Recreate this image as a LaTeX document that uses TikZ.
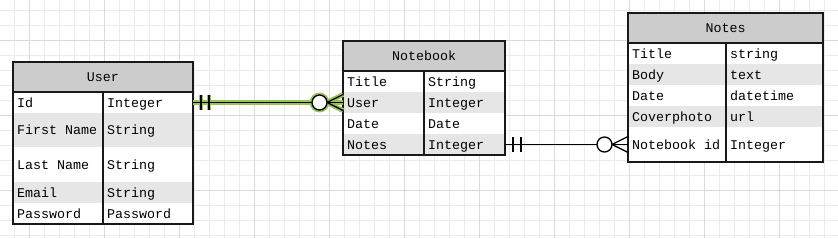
\documentclass[tikz,border=0pt]{standalone}
\usepackage{fontspec}
\setmainfont{Liberation Mono}
\usetikzlibrary{calc}
\definecolor{hdrgray}{HTML}{CCCCCC}
\definecolor{rowgray}{HTML}{E6E6E6}
\definecolor{gridminor}{HTML}{EBEBEB}
\definecolor{gridmajor}{HTML}{DADADA}
\definecolor{glowgreen}{HTML}{96C35A}
\newcommand\erlink[3]{%
  \draw[#3] (#1.east) -- (#2.west);
  \draw[#3] ($(#1.east)+(8,-7.5)$) -- ++(0,15);
  \draw[#3] ($(#1.east)+(16,-7.5)$) -- ++(0,15);
  \draw[#3] ($(#2.west)+(-16,0)$) -- ($(#2.west)+(0,-8)$);
  \draw[#3] ($(#2.west)+(-16,0)$) -- ($(#2.west)+(0,8)$);
  \draw[#3,fill=white] ($(#2.west)+(-23.5,0)$) circle[radius=7.5];
}
\begin{document}
\begin{tikzpicture}[x=0.75pt,y=-0.75pt,
  font=\fontsize{10}{12}\selectfont,
  minorline/.style={draw=gridminor,line width=0.75pt},
  majorline/.style={draw=gridmajor,line width=0.75pt},
  hdr/.style={fill=hdrgray,draw=none,inner sep=0pt,outer sep=0pt,minimum height=30*0.75pt},
  rowbox/.style={draw=none,inner sep=0pt,outer sep=0pt},
  txt/.style={anchor=west,inner sep=0pt,outer sep=0pt,text height=0.69em,text depth=0pt},
  tabline/.style={draw=black!90,line width=1.2pt},
  erline/.style={draw=black,line width=1pt},
  glow/.style={draw=glowgreen,line width=3.6pt}]
\useasboundingbox (0,0) rectangle (838,238);
\fill[white] (0,0) rectangle (838,238);
% grid
\foreach \i in {0,...,55} \draw[minorline] ({14.3+15*\i},0) -- ++(0,238);
\foreach \i in {0,...,15} \draw[minorline] (0,{10.3+15*\i}) -- ++(838,0);
\foreach \i in {0,...,10} \draw[majorline] ({29.3+75*\i},0) -- ++(0,238);
\foreach \i in {0,...,2} \draw[majorline] (0,{40.3+75*\i}) -- ++(838,0);

% ---------- User ----------
\node[hdr,minimum width=180*0.75pt] (user) at (103,77) {User};
\node[rowbox,fill=white,minimum width=180*0.75pt,minimum height=21*0.75pt] (user-id) at (103,102.5) {};
\node[rowbox,fill=rowgray,minimum width=180*0.75pt,minimum height=34.5*0.75pt] (user-fn) at (103,130.25) {};
\node[rowbox,fill=white,minimum width=180*0.75pt,minimum height=34.5*0.75pt] (user-ln) at (103,164.75) {};
\node[rowbox,fill=rowgray,minimum width=180*0.75pt,minimum height=21*0.75pt] (user-em) at (103,192.5) {};
\node[rowbox,fill=white,minimum width=180*0.75pt,minimum height=21*0.75pt] (user-pw) at (103,213.5) {};
\draw[tabline] (user.north west) rectangle (user-pw.south east);
\draw[tabline] (user.south west) -- (user.south east);
\draw[tabline] ($(user-id.north west)+(90,0)$) -- ($(user-pw.south west)+(90,0)$);
\node[txt] (u-t1) at (17,102.5) {Id};
\node[txt] (u-t2) at (107,102.5) {Integer};
\node[txt] (u-t3) at (17,130.25) {First Name};
\node[txt] (u-t4) at (107,130.25) {String};
\node[txt] (u-t5) at (17,164.75) {Last Name};
\node[txt] (u-t6) at (107,164.75) {String};
\node[txt] (u-t7) at (17,192.5) {Email};
\node[txt] (u-t8) at (107,192.5) {String};
\node[txt] (u-t9) at (17,213.5) {Password};
\node[txt] (u-t10) at (107,213.5) {Password};

% ---------- Notebook ----------
\node[hdr,minimum width=162*0.75pt] (nb) at (424,56) {Notebook};
\node[rowbox,fill=white,minimum width=162*0.75pt,minimum height=21*0.75pt] (nb-title) at (424,81.5) {};
\node[rowbox,fill=rowgray,minimum width=162*0.75pt,minimum height=21*0.75pt] (nb-user) at (424,102.5) {};
\node[rowbox,fill=white,minimum width=162*0.75pt,minimum height=21*0.75pt] (nb-date) at (424,123.5) {};
\node[rowbox,fill=rowgray,minimum width=162*0.75pt,minimum height=21*0.75pt] (nb-notes) at (424,144.5) {};
\draw[tabline] (nb.north west) rectangle (nb-notes.south east);
\draw[tabline] (nb.south west) -- (nb.south east);
\draw[tabline] ($(nb-title.north west)+(81,0)$) -- ($(nb-notes.south west)+(81,0)$);
\node[txt] (n-t1) at (347,81.5) {Title};
\node[txt] (n-t2) at (428,81.5) {String};
\node[txt] (n-t3) at (347,102.5) {User};
\node[txt] (n-t4) at (428,102.5) {Integer};
\node[txt] (n-t5) at (347,123.5) {Date};
\node[txt] (n-t6) at (428,123.5) {Date};
\node[txt] (n-t7) at (347,144.5) {Notes};
\node[txt] (n-t8) at (428,144.5) {Integer};

% ---------- Notes ----------
\node[hdr,minimum width=195*0.75pt] (notes) at (725.5,28) {Notes};
\node[rowbox,fill=white,minimum width=195*0.75pt,minimum height=21*0.75pt] (notes-title) at (725.5,53.5) {};
\node[rowbox,fill=rowgray,minimum width=195*0.75pt,minimum height=21*0.75pt] (notes-body) at (725.5,74.5) {};
\node[rowbox,fill=white,minimum width=195*0.75pt,minimum height=21*0.75pt] (notes-date) at (725.5,95.5) {};
\node[rowbox,fill=rowgray,minimum width=195*0.75pt,minimum height=21*0.75pt] (notes-cover) at (725.5,116.5) {};
\node[rowbox,fill=white,minimum width=195*0.75pt,minimum height=35*0.75pt] (notes-nbid) at (725.5,144.5) {};
\draw[tabline] (notes.north west) rectangle (notes-nbid.south east);
\draw[tabline] (notes.south west) -- (notes.south east);
\draw[tabline] ($(notes-title.north west)+(98,0)$) -- ($(notes-nbid.south west)+(98,0)$);
\node[txt] (s-t1) at (632,53.5) {Title};
\node[txt] (s-t2) at (730,53.5) {string};
\node[txt] (s-t3) at (632,74.5) {Body};
\node[txt] (s-t4) at (730,74.5) {text};
\node[txt] (s-t5) at (632,95.5) {Date};
\node[txt] (s-t6) at (730,95.5) {datetime};
\node[txt] (s-t7) at (632,116.5) {Coverphoto};
\node[txt] (s-t8) at (730,116.5) {url};
\node[txt] (s-t9) at (632,144.5) {Notebook id};
\node[txt] (s-t10) at (730,144.5) {Integer};

% ---------- connectors ----------
\erlink{user-id}{nb-user}{glow}
\erlink{user-id}{nb-user}{erline}
\erlink{nb-notes}{notes-nbid}{erline}
\end{tikzpicture}
\end{document}
